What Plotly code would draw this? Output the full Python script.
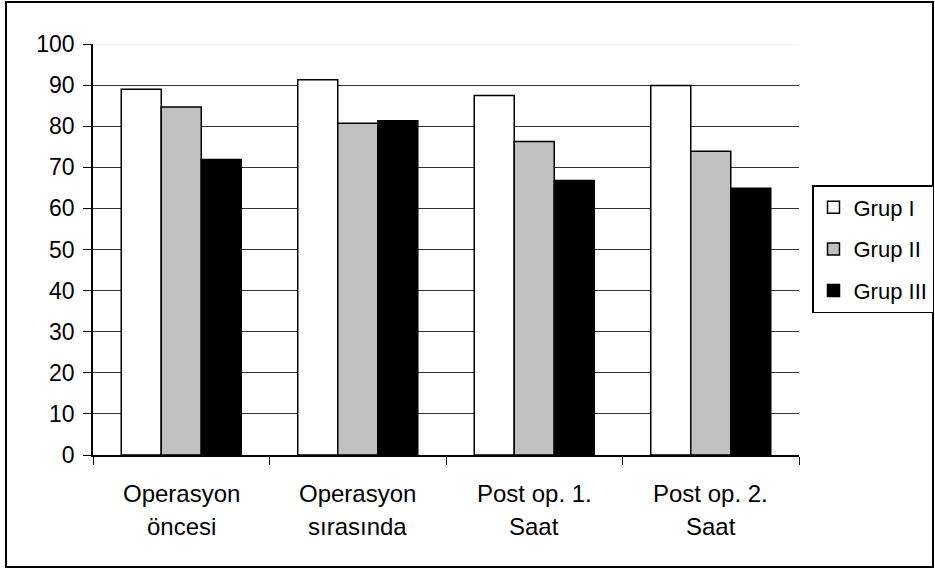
import plotly.graph_objects as go

categories = ["Operasyon öncesi", "Operasyon sırasında", "Post op. 1. Saat", "Post op. 2. Saat"]
label_line1 = ["Operasyon", "Operasyon", "Post op. 1.", "Post op. 2."]
label_line2 = ["öncesi", "sırasında", "Saat", "Saat"]
series_names = ["Grup I", "Grup II", "Grup III"]
grup1 = [89, 91.3, 87.5, 89.9]
grup2 = [84.7, 80.7, 76.3, 73.9]
grup3 = [71.9, 81.3, 66.8, 64.9]
y_ticks = [0, 10, 20, 30, 40, 50, 60, 70, 80, 90, 100]

FONT = "Liberation Sans, Arial, sans-serif"

W, H = 935, 569
L, R, T, B = 93, 136, 44, 114
PW, PH = W - L - R, H - T - B
Y0 = H - B  # pixel row of the plot bottom


def px_x(x):
    return (x - L) / PW


def px_y(y):
    return (Y0 - y) / PH


fig = go.Figure()
fills = ["#FFFFFF", "#C0C0C0", "#000000"]
for name, vals, col, grp in zip(series_names, [grup1, grup2, grup3], fills, ["a", "b", "c"]):
    fig.add_trace(go.Bar(
        x=categories, y=vals, name=name, legendgroup=grp,
        marker=dict(color=col, line=dict(color="#000000", width=1.5)),
    ))

for c, l1, l2 in zip(categories, label_line1, label_line2):
    fig.add_annotation(x=c, y=0, xref="x", yref="y", text=l1, showarrow=False,
                       yshift=-38, yanchor="middle", font=dict(family=FONT, size=24, color="#000"))
    fig.add_annotation(x=c, y=0, xref="x", yref="y", text=l2, showarrow=False,
                       yshift=-71, yanchor="middle", font=dict(family=FONT, size=24, color="#000"))

# light top gridline at 100
fig.add_shape(type="line", xref="paper", yref="y", x0=0, x1=1, y0=100, y1=100,
              line=dict(color="#E6E6E6", width=1.2), layer="above")
# outer border
fig.add_shape(type="rect", xref="paper", yref="paper",
              x0=px_x(6), x1=px_x(933), y0=px_y(567), y1=px_y(2),
              line=dict(color="#000000", width=2), fillcolor="rgba(0,0,0,0)", layer="above")

fig.update_layout(
    width=W, height=H,
    margin=dict(l=L, r=R, t=T, b=B, autoexpand=False),
    paper_bgcolor="white", plot_bgcolor="white",
    barmode="group", bargap=0.32, bargroupgap=0,
    font=dict(family=FONT, size=22, color="#000"),
    showlegend=True,
    legend=dict(x=px_x(812), y=px_y(185), xanchor="left", yanchor="top",
                bordercolor="#000", borderwidth=1.5, bgcolor="white",
                font=dict(family=FONT, size=22, color="#000"),
                tracegroupgap=10, itemwidth=30),
    xaxis=dict(showline=True, linecolor="#000", linewidth=1.5, ticks="outside",
               tickson="boundaries", ticklen=8, tickcolor="#000", showticklabels=False,
               showgrid=False, zeroline=False),
    yaxis=dict(range=[0, 100], tickvals=y_ticks, showline=True, linecolor="#000", linewidth=1.5,
               ticks="outside", ticklen=8, tickcolor="#000", showgrid=True, gridcolor="#333333",
               gridwidth=1.2, zeroline=False, ticklabelstandoff=4,
               tickfont=dict(family=FONT, size=23, color="#000")),
)

fig.write_html("out.html", config={"displayModeBar": False},
               post_script="document.body.style.margin='0';document.body.style.overflow='hidden';")
